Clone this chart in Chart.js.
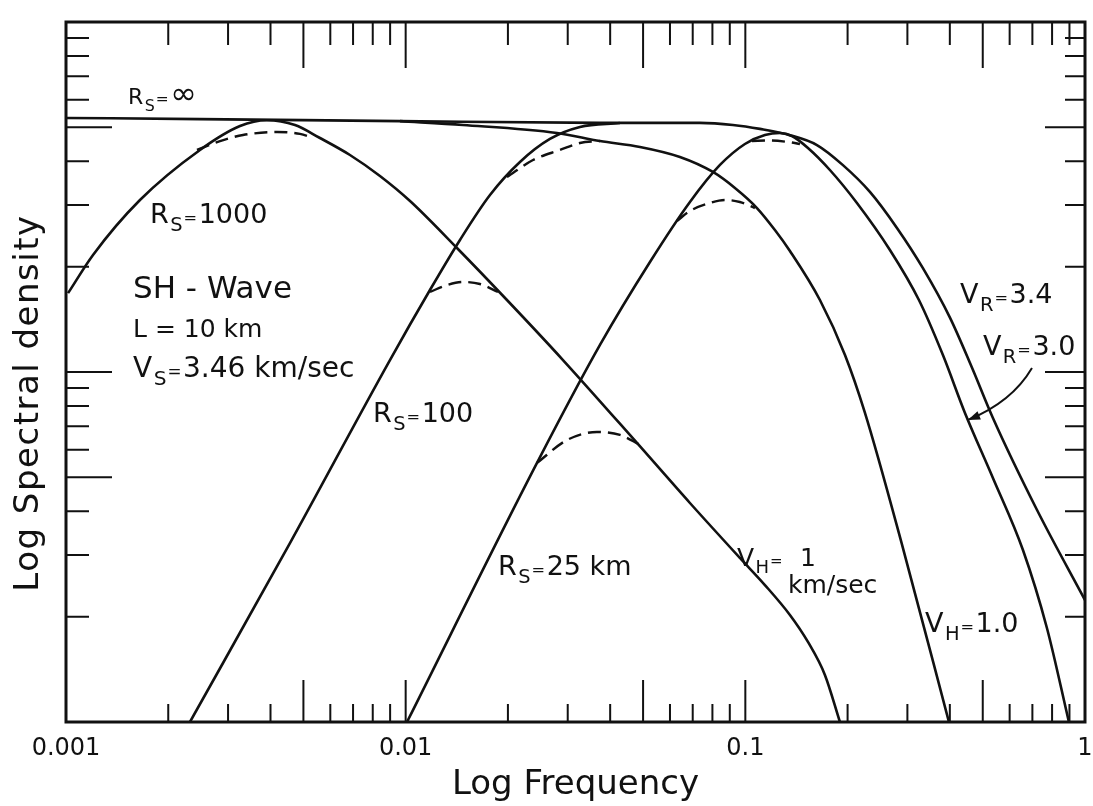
<!DOCTYPE html>
<html>
<head>
<meta charset="utf-8">
<script src="https://cdn.jsdelivr.net/npm/chart.js@4/dist/chart.umd.min.js"></script>
<style>
html,body{margin:0;padding:0;background:#fff;}
#wrap{width:1093px;height:806px;}
</style>
</head>
<body>
<div id="wrap"><canvas id="c" width="1093" height="806"></canvas></div>
<script>
// ---- axis tick labels ----
const xTickValues = [0.001, 0.01, 0.1, 1];
const xTickLabels = ['0.001', '0.01', '0.1', '1'];

// ---- solid curves (frequency, spectral density) ----
// R_s = infinity plateau, V_R = 3.4 fall-off
const rInfFreq = [0.001, 0.00248, 0.00962, 0.03733, 0.07352, 0.09194, 0.1104, 0.1353, 0.1625, 0.1938, 0.2327, 0.2795, 0.3333, 0.4003, 0.4646, 0.5357, 0.7218, 1.0];
const rInfDens = [53.2, 52.8, 52.1, 51.5, 51.5, 50.8, 49.5, 47.5, 44.5, 39.0, 32.7, 25.8, 19.8, 14.3, 10.3, 7.39, 4.04, 2.23];

// R_s = 1000, V_H = 1 km/sec fall-off
const r1000Freq = [0.001014, 0.001201, 0.001651, 0.00248, 0.003253, 0.003905, 0.004722, 0.005594, 0.006855, 0.008401, 0.0103, 0.01416, 0.01987, 0.02905, 0.04797, 0.06869, 0.0964, 0.1142, 0.1353, 0.1529, 0.1715, 0.1899];
const r1000Dens = [16.8, 21.6, 31.0, 43.1, 50.45, 52.4, 50.78, 46.62, 41.69, 36.31, 30.8, 22.61, 16.06, 10.82, 6.27, 4.224, 2.942, 2.462, 2.022, 1.693, 1.363, 1.0];

// R_s = 100 rising branch
const r100Freq = [0.002317, 0.004564, 0.00899, 0.01179, 0.01445, 0.01771, 0.0217, 0.02659, 0.03259, 0.04275];
const r100Dens = [1.0, 3.246, 10.82, 17.15, 23.84, 32.04, 39.81, 46.32, 50.12, 51.45];

// V_H = 1.0 fall-off
const vh10Freq = [0.00962, 0.01475, 0.02789, 0.03733, 0.04896, 0.06419, 0.08028, 0.0932, 0.1082, 0.1222, 0.1353, 0.1658, 0.1965, 0.225, 0.2911, 0.3976];
const vh10Dens = [52.1, 50.8, 48.2, 45.7, 43.95, 41.15, 37.28, 33.55, 29.41, 25.45, 22.17, 16.06, 11.18, 7.64, 3.14, 1.0];

// R_s = 25 km, V_R = 3.0 fall-off
const r25Freq = [0.01009, 0.02436, 0.03733, 0.05239, 0.06869, 0.0842, 0.09972, 0.1142, 0.1265, 0.1372, 0.1529, 0.1774, 0.2131, 0.2665, 0.3244, 0.3817, 0.4432, 0.5357, 0.6566, 0.7725, 0.8967];
const r25Dens = [1.0, 5.50, 11.95, 20.62, 30.6, 39.04, 44.82, 47.55, 48.18, 47.24, 43.65, 37.77, 30.4, 22.32, 16.06, 11.18, 7.64, 4.98, 3.10, 1.856, 1.0];

// ---- dashed arcs ----
const d1Freq = [0.00243, 0.00284, 0.00332, 0.00418, 0.004885, 0.005336];
const d1Dens = [43.1, 45.7, 47.55, 48.5, 47.9, 46.6];
const d2Freq = [0.01987, 0.02371, 0.02846, 0.03259, 0.03733];
const d2Dens = [36.07, 40.34, 43.09, 45.12, 45.71];
const d3Freq = [0.1046, 0.1181, 0.1335, 0.1448];
const d3Dens = [45.71, 45.86, 45.42, 44.82];
const d4Freq = [0.01179, 0.01323, 0.01475, 0.01655, 0.0187];
const d4Dens = [16.93, 17.72, 18.08, 17.84, 16.93];
const d5Freq = [0.0629, 0.06869, 0.07867, 0.0871, 0.0964, 0.1067];
const d5Dens = [27.0, 28.84, 30.4, 31.0, 30.6, 29.41];
const d6Freq = [0.02436, 0.02984, 0.03658, 0.04275, 0.04896];
const d6Dens = [5.50, 6.39, 6.74, 6.61, 6.19];

// ---- annotation texts (anchored in data units) ----
const notes = [
  {f: 0.001522, v: 58.3, size: 22, parts: [{t: 'R'}, {t: 'S', sub: true}, {t: '=', s: 0.7}, {t: '\u221E', s: 1.45}]},
  {f: 0.001767, v: 26.65, size: 27, parts: [{t: 'R'}, {t: 'S', sub: true}, {t: '=', s: 0.6}, {t: '1000'}]},
  {f: 0.001575, v: 16.27, size: 31, parts: [{t: 'SH - Wave'}]},
  {f: 0.001575, v: 12.59, size: 25, parts: [{t: 'L = 10 km'}]},
  {f: 0.001575, v: 9.68, size: 28, parts: [{t: 'V'}, {t: 'S', sub: true}, {t: '=', s: 0.6}, {t: '3.46 km/sec'}]},
  {f: 0.008012, v: 7.197, size: 27, parts: [{t: 'R'}, {t: 'S', sub: true}, {t: '=', s: 0.6}, {t: '100'}]},
  {f: 0.0187, v: 2.63, size: 27, parts: [{t: 'R'}, {t: 'S', sub: true}, {t: '=', s: 0.6}, {t: '25 km'}]},
  {f: 0.09449, v: 2.791, size: 25, parts: [{t: 'V'}, {t: 'H', sub: true}, {t: '=', s: 0.6}, {t: '  1'}]},
  {f: 0.1335, v: 2.336, size: 25, parts: [{t: 'km/sec'}]},
  {f: 0.3379, v: 1.808, size: 27, parts: [{t: 'V'}, {t: 'H', sub: true}, {t: '=', s: 0.6}, {t: '1.0'}]},
  {f: 0.4284, v: 15.75, size: 27, parts: [{t: 'V'}, {t: 'R', sub: true}, {t: '=', s: 0.6}, {t: '3.4'}]},
  {f: 0.5005, v: 11.18, size: 27, parts: [{t: 'V'}, {t: 'R', sub: true}, {t: '=', s: 0.6}, {t: '3.0'}]}
];
const arrowPath = {from: [0.6981, 10.27], ctrl: [0.6093, 8.206], to: [0.4521, 7.295]};

const FONT = '"DejaVu Sans", "Liberation Sans", sans-serif';
const INK = '#111';

function pts(fs, vs) { return fs.map((f, i) => ({x: f, y: vs[i]})); }
function solid(fs, vs) {
  return {data: pts(fs, vs), showLine: true, borderColor: INK, borderWidth: 2.6, pointRadius: 0,
          cubicInterpolationMode: 'monotone', fill: false};
}
function dashed(fs, vs) {
  return {data: pts(fs, vs), showLine: true, borderColor: INK, borderWidth: 2.4, pointRadius: 0,
          borderDash: [13, 7], cubicInterpolationMode: 'monotone', fill: false};
}

function decadeTicks(min, max) {
  const out = [];
  for (let e = Math.floor(Math.log10(min)); e <= Math.ceil(Math.log10(max)); e++) {
    for (let k = 1; k <= 9; k++) {
      const v = k * Math.pow(10, e);
      if (v > min * 1.001 && v < max * 0.999) out.push({v: v, long: k === 1 || k === 5});
    }
  }
  return out;
}

function drawRich(ctx, x, y, parts, size) {
  let cx = x;
  ctx.textBaseline = 'alphabetic';
  ctx.textAlign = 'left';
  for (const p of parts) {
    const s = p.sub ? size * 0.72 : size * (p.s || 1);
    ctx.font = s + 'px ' + FONT;
    const dy = p.sub ? size * 0.3 : 0;
    ctx.fillText(p.t, cx, y + dy);
    cx += ctx.measureText(p.t).width + (p.sub ? 1 : 1.5);
  }
}

const decor = {
  id: 'decor',
  afterDatasetsDraw(chart) {
    const ctx = chart.ctx;
    const xs = chart.scales.x, ys = chart.scales.y;
    const a = chart.chartArea;
    ctx.save();
    ctx.strokeStyle = INK;
    ctx.fillStyle = INK;
    // frame
    ctx.lineWidth = 3;
    ctx.strokeRect(a.left, a.top, a.right - a.left, a.bottom - a.top);
    // inward tick marks
    ctx.lineWidth = 2;
    ctx.beginPath();
    for (const t of decadeTicks(xs.min, xs.max)) {
      const px = xs.getPixelForValue(t.v);
      ctx.moveTo(px, a.bottom); ctx.lineTo(px, a.bottom - (t.long ? 42 : 18));
      ctx.moveTo(px, a.top); ctx.lineTo(px, a.top + (t.long ? 46 : 23));
    }
    for (const t of decadeTicks(ys.min, ys.max)) {
      const py = ys.getPixelForValue(t.v);
      ctx.moveTo(a.left, py); ctx.lineTo(a.left + (t.long ? 46 : 23), py);
      ctx.moveTo(a.right, py); ctx.lineTo(a.right - (t.long ? 40 : 20), py);
    }
    ctx.stroke();
    // annotations
    for (const n of notes) {
      drawRich(ctx, xs.getPixelForValue(n.f), ys.getPixelForValue(n.v), n.parts, n.size);
    }
    // arrow to V_R = 3.0 curve
    const P = p => [xs.getPixelForValue(p[0]), ys.getPixelForValue(p[1])];
    const s = P(arrowPath.from), c = P(arrowPath.ctrl), e = P(arrowPath.to);
    ctx.lineWidth = 2;
    ctx.beginPath();
    ctx.moveTo(s[0], s[1]);
    ctx.quadraticCurveTo(c[0], c[1], e[0], e[1]);
    ctx.stroke();
    const ang = Math.atan2(e[1] - c[1], e[0] - c[0]);
    ctx.beginPath();
    ctx.moveTo(e[0], e[1]);
    ctx.lineTo(e[0] - 13 * Math.cos(ang - 0.35), e[1] - 13 * Math.sin(ang - 0.35));
    ctx.lineTo(e[0] - 13 * Math.cos(ang + 0.35), e[1] - 13 * Math.sin(ang + 0.35));
    ctx.closePath();
    ctx.fill();
    // y-axis title
    ctx.save();
    ctx.translate(a.left - 28, 403);
    ctx.rotate(-Math.PI / 2);
    ctx.font = '34px ' + FONT;
    if ('letterSpacing' in ctx) ctx.letterSpacing = '1.5px';
    ctx.textAlign = 'center';
    ctx.textBaseline = 'alphabetic';
    ctx.fillText('Log Spectral density', 0, 0);
    ctx.restore();
    ctx.restore();
  }
};

new Chart(document.getElementById('c'), {
  type: 'scatter',
  data: {
    datasets: [
      solid(rInfFreq, rInfDens),
      solid(r1000Freq, r1000Dens),
      solid(r100Freq, r100Dens),
      solid(vh10Freq, vh10Dens),
      solid(r25Freq, r25Dens),
      dashed(d1Freq, d1Dens),
      dashed(d2Freq, d2Dens),
      dashed(d3Freq, d3Dens),
      dashed(d4Freq, d4Dens),
      dashed(d5Freq, d5Dens),
      dashed(d6Freq, d6Dens)
    ]
  },
  options: {
    responsive: false,
    animation: false,
    devicePixelRatio: 1,
    layout: {padding: {left: 66, right: 8, top: 22, bottom: 0}},
    plugins: {legend: {display: false}, tooltip: {enabled: false}},
    scales: {
      x: {
        type: 'logarithmic', min: 0.001, max: 1,
        grid: {display: false, drawTicks: false},
        border: {display: false},
        afterBuildTicks: scale => { scale.ticks = xTickValues.map(v => ({value: v})); },
        afterFit: scale => { scale.height = 84; },
        ticks: {
          autoSkip: false, maxRotation: 0, padding: 0, color: INK,
          font: {family: FONT, size: 24, lineHeight: 2.2},
          callback: (value, index) => xTickLabels[index]
        },
        title: {display: true, text: 'Log Frequency', color: INK,
                font: {family: FONT, size: 34}, padding: {top: 0, bottom: 0}}
      },
      y: {
        type: 'logarithmic', min: 1, max: 100,
        grid: {display: false, drawTicks: false},
        border: {display: false},
        ticks: {display: false},
        title: {display: false}
      }
    }
  },
  plugins: [decor]
});
</script>
</body>
</html>
